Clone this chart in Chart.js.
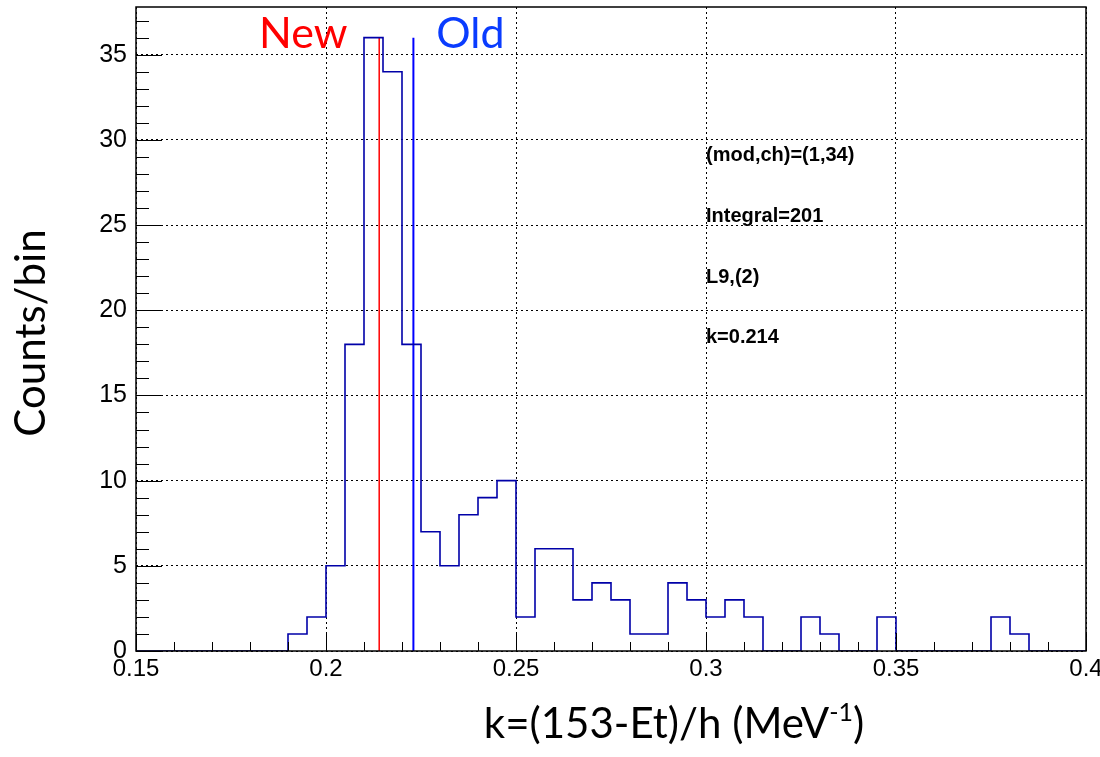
<!DOCTYPE html>
<html>
<head>
<meta charset="utf-8">
<script src="https://cdn.jsdelivr.net/npm/chart.js@4.4.0/dist/chart.umd.min.js"></script>
<style>
  body { margin: 0; background: #fff; }
  #myChart { display: block; }
</style>
</head>
<body>
<canvas id="myChart" width="1100" height="757"></canvas>
<script>
// histogram binning (k axis)
var binStart = 0.15;
var binWidth = 0.005;
// counts per bin, 0.150 .. 0.400
var counts = [
  0, 0, 0, 0, 0, 0, 0, 0, 1, 2,
  5, 18, 36, 34, 18, 7, 5, 8, 9, 10,
  2, 6, 6, 3, 4, 3, 1, 1, 4, 3,
  2, 3, 2, 0, 0, 2, 1, 0, 0, 2,
  0, 0, 0, 0, 0, 2, 1, 0, 0, 0
];
// the two k markers
var markerNames = ['New', 'Old'];
var markerK = [0.214, 0.223];
var markerTop = 36;
// text box
var infoLines = ['(mod,ch)=(1,34)', 'Integral=201', 'L9,(2)', 'k=0.214'];
var infoX = 0.3;
var infoY = [29.1, 25.5, 21.9, 18.4];
// axis ranges and ticks
var xMin = 0.15, xMax = 0.4, xStep = 0.05, xMinorStep = 0.01;
var yMin = 0, yMax = 37.8, yStep = 5, yMinorStep = 1;

// build the step outline from the bin low edges
var histPoints = [];
for (var i = 0; i < counts.length; i++) {
  histPoints.push({x: binStart + i * binWidth, y: counts[i]});
}
histPoints.push({x: binStart + counts.length * binWidth, y: counts[counts.length - 1]});

var markerColors = ['#ff0000', '#0000ff'];
var markerTextColors = ['#ff0000', '#0a3cff'];

var datasets = [{
  label: 'hist',
  data: histPoints,
  borderColor: '#0000a8',
  borderWidth: 1.6,
  stepped: true,
  pointRadius: 0,
  fill: false
}];
for (var m = 0; m < markerK.length; m++) {
  datasets.push({
    label: markerNames[m],
    data: [{x: markerK[m], y: 0}, {x: markerK[m], y: markerTop}],
    borderColor: markerColors[m],
    borderWidth: m === 0 ? 1.5 : 2,
    pointRadius: 0,
    fill: false
  });
}

var titleFont = '42px Lato, "Open Sans", sans-serif';

// frame, inside ticks and all the texts, ROOT style
var rootFrame = {
  id: 'rootFrame',
  afterDatasetsDraw: function (chart) {
    var ctx = chart.ctx, a = chart.chartArea;
    var xs = chart.scales.x, ys = chart.scales.y;
    ctx.save();
    ctx.strokeStyle = '#000';
    ctx.lineWidth = 1;
    var v, p, len;
    for (v = yMin; v <= yMax; v += yMinorStep) {
      p = Math.round(ys.getPixelForValue(v)) + 0.5;
      len = (Math.round(v) % yStep === 0) ? 26 : 13;
      ctx.beginPath(); ctx.moveTo(a.left, p); ctx.lineTo(a.left + len, p); ctx.stroke();
    }
    for (v = 0; v <= Math.round((xMax - xMin) / xMinorStep); v++) {
      p = Math.round(xs.getPixelForValue(xMin + v * xMinorStep)) + 0.5;
      len = (v % 5 === 0) ? 18 : 9;
      ctx.beginPath(); ctx.moveTo(p, a.bottom); ctx.lineTo(p, a.bottom - len); ctx.stroke();
    }
    ctx.lineWidth = 1.5;
    ctx.strokeRect(a.left, a.top, a.right - a.left, a.bottom - a.top);

    // info text
    ctx.fillStyle = '#000';
    ctx.font = 'bold 20px "Liberation Sans", Arial, sans-serif';
    ctx.textAlign = 'left';
    ctx.textBaseline = 'middle';
    for (var i = 0; i < infoLines.length; i++) {
      ctx.fillText(infoLines[i], xs.getPixelForValue(infoX), ys.getPixelForValue(infoY[i]));
    }

    // marker names above the peak
    ctx.font = '43px Lato, "Open Sans", sans-serif';
    ctx.textAlign = 'center';
    var nameX = [0.194, 0.238];
    for (var m = 0; m < markerNames.length; m++) {
      ctx.fillStyle = markerTextColors[m];
      ctx.fillText(markerNames[m], xs.getPixelForValue(nameX[m]), ys.getPixelForValue(36.2));
    }

    // axis titles
    ctx.fillStyle = '#000';
    ctx.font = titleFont;
    ctx.save();
    ctx.translate(31, 333);
    ctx.rotate(-Math.PI / 2);
    ctx.textAlign = 'center';
    ctx.fillText('Counts/bin', 0, 0);
    ctx.restore();

    var mainT = 'k=(153-Et)/h (MeV';
    ctx.font = titleFont;
    var w1 = ctx.measureText(mainT).width;
    ctx.font = '25px Lato, "Open Sans", sans-serif';
    var w2 = ctx.measureText('-1').width;
    ctx.font = titleFont;
    var w3 = ctx.measureText(')').width;
    var tx = 674 - (w1 + w2 + w3) / 2;
    ctx.textAlign = 'left';
    ctx.textBaseline = 'alphabetic';
    ctx.fillText(mainT, tx, 738);
    ctx.font = '25px Lato, "Open Sans", sans-serif';
    ctx.fillText('-1', tx + w1, 721);
    ctx.font = titleFont;
    ctx.fillText(')', tx + w1 + w2, 738);
    ctx.restore();
  }
};

var chartDisplay = document.getElementById('myChart');
var myChart = new Chart(chartDisplay, {
  type: 'line',
  data: {datasets: datasets},
  options: {
    responsive: false,
    animation: false,
    layout: {padding: {left: 0, right: 14, top: 7, bottom: 0}},
    plugins: {legend: {display: false}, tooltip: {enabled: false}},
    scales: {
      x: {
        type: 'linear',
        min: xMin, max: xMax,
        afterFit: function (s) { s.height = 106; s.paddingLeft = 0; s.paddingRight = 0; },
        border: {display: false, dash: [2, 3]},
        grid: {color: '#000', lineWidth: 1, drawTicks: false, tickLength: 0},
        ticks: {
          stepSize: xStep, autoSkip: false, maxRotation: 0, padding: 4,
          color: '#000', font: {family: '"Liberation Sans", Arial', size: 24},
          callback: function (v) { return +v.toFixed(3); }
        }
      },
      y: {
        min: yMin, max: yMax,
        afterFit: function (s) { s.width = 136; s.paddingTop = 0; s.paddingBottom = 0; },
        border: {display: false, dash: [2, 3]},
        grid: {color: '#000', lineWidth: 1, drawTicks: false, tickLength: 0},
        ticks: {
          stepSize: yStep, includeBounds: false, padding: 9,
          color: '#000', font: {family: '"Liberation Sans", Arial', size: 25}
        }
      }
    }
  },
  plugins: [rootFrame]
});
</script>
</body>
</html>
